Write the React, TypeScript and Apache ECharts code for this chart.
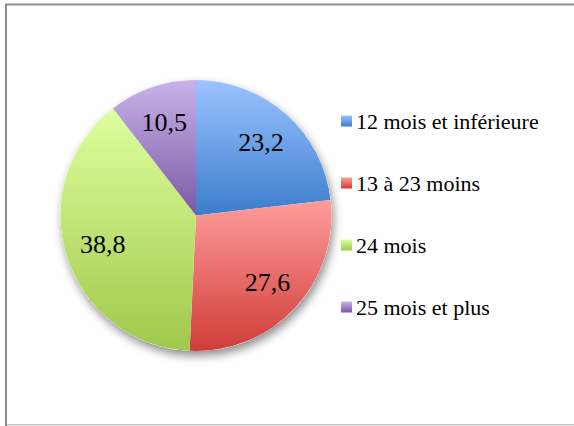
import React, { useEffect, useRef } from "react";
import * as echarts from "echarts";

const categories = ["12 mois et inférieure", "13 à 23 moins", "24 mois", "25 mois et plus"];
const values = [23.2, 27.6, 38.8, 10.5];
const topColors = ["#9cc3ff", "#ff9d9a", "#deff9f", "#c8b3e9"];
const bottomColors = ["#3b7dcc", "#cf3c38", "#a0c84a", "#7b58a5"];

const FONT = "Liberation Serif";

export default function App() {
  const ref = useRef<HTMLDivElement>(null);
  useEffect(() => {
    const chart = echarts.init(ref.current!, null, { renderer: "svg" });
    const grad = (i: number) =>
      new echarts.graphic.LinearGradient(0, 0, 0, 1, [
        { offset: 0, color: topColors[i] },
        { offset: 1, color: bottomColors[i] },
      ]);
    const data = categories.map((name, i) => ({
      name,
      value: values[i],
      itemStyle: { color: grad(i) },
    }));
    const center = [196, 215.5];
    const R = 135.5;
    chart.setOption({
      animation: false,
      backgroundColor: "#ffffff",
      graphic: [
        {
          type: "rect",
          shape: { x: 6, y: 4.5, width: 600, height: 421 },
          style: { fill: "none", stroke: "#8a8a8a", lineWidth: 2 },
          z: 100,
        },
        {
          type: "line",
          shape: { x1: 7, y1: 425.5, x2: 574, y2: 425.5 },
          style: { stroke: "#e6e6e6", lineWidth: 1 },
          z: 101,
        },
      ],
      legend: {
        orient: "vertical",
        left: 336,
        top: 105,
        itemWidth: 11,
        itemHeight: 11,
        itemGap: 40,
        icon: "rect",
        data: categories,
        textStyle: {
          fontFamily: FONT,
          fontSize: 22,
          lineHeight: 22,
          color: "#000",
          padding: [0, 0, 0, -1],
        },
        selectedMode: false,
      },
      series: [
        {
          type: "pie",
          silent: true,
          center,
          radius: [0, R],
          z: 1,
          label: { show: false },
          labelLine: { show: false },
          itemStyle: {
            color: "#ffffff",
            shadowBlur: 10,
            shadowOffsetX: 2,
            shadowOffsetY: 5,
            shadowColor: "rgba(0,0,0,0.45)",
          },
          data: [{ name: "_shadow", value: 1 }],
        },
        {
          type: "pie",
          center,
          radius: [0, R],
          startAngle: 90,
          clockwise: true,
          z: 2,
          label: { show: false },
          labelLine: { show: false },
          itemStyle: { borderWidth: 0 },
          data,
        },
        {
          type: "pie",
          silent: true,
          center,
          radius: [R * 0.4, R],
          startAngle: 90,
          clockwise: true,
          z: 3,
          labelLine: { show: false },
          itemStyle: { color: "rgba(0,0,0,0)", borderWidth: 0 },
          label: {
            show: true,
            position: "inside",
            fontFamily: FONT,
            fontSize: 26,
            color: "#000",
            formatter: (p: any) => String(p.value).replace(".", ","),
          },
          data: categories.map((name, i) => ({ name: "lbl" + i, value: values[i] })),
        },
      ],
    });
    return () => chart.dispose();
  }, []);
  return (
    <div
      ref={ref}
      style={{ position: "fixed", left: 0, top: 0, width: 574, height: 426 }}
    />
  );
}
